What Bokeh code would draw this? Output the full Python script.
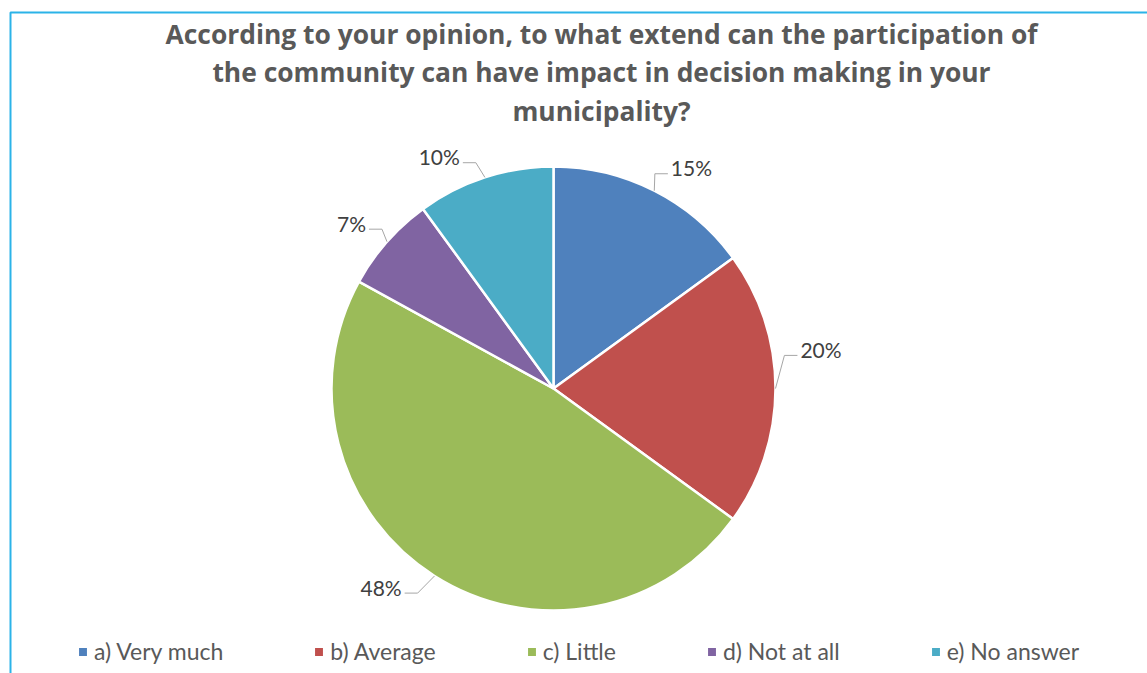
import numpy as np
from bokeh.plotting import figure
from bokeh.models import ColumnDataSource, Range1d, Legend, LegendItem
from bokeh.embed import file_html
from bokeh.resources import INLINE
from bokeh.core.properties import value

# ---------------- data ----------------
categories = ["a) Very much", "b) Average", "c) Little", "d) Not at all", "e) No answer"]
percentages = [15, 20, 48, 7, 10]
colors = ["#4F81BD", "#C0504D", "#9BBB59", "#8064A2", "#4BACC6"]
title_lines = [
    "According to your opinion, to what extend can the participation of",
    "the community can have impact in decision making in your",
    "municipality?",
]

# ---------------- layout ----------------
W, H = 1147, 673
cx, cy = 553, H - 388          # pie centre (px, y up)
R = 222                        # pie radius (px)
label_radius = 250
label_nudge_deg = [-1, 9, -5, 0, 4]
title_x = 601
title_y = [H - 33, H - 71, H - 110]
FONT = "Lato"
TITLE_FONT = "Open Sans"

frac = np.array(percentages, dtype=float) / sum(percentages)
cum = np.cumsum(frac)
start = np.pi / 2 - 2 * np.pi * (cum - frac)
end = np.pi / 2 - 2 * np.pi * cum
mid = (start + end) / 2

src = ColumnDataSource(dict(cat=categories, start=start, end=end, color=colors))

p = figure(width=W, height=H, x_range=Range1d(0, W), y_range=Range1d(0, H),
           x_axis_type=None, y_axis_type=None, toolbar_location=None,
           output_backend="svg", min_border=0, outline_line_color=None)
p.grid.visible = False

# frame border
p.line(x=[10, 10, W + 20], y=[-20, H - 12, H - 12], line_color="#2BB3E8", line_width=2)

wedges = p.wedge(x=cx, y=cy, radius=R, start_angle="start", end_angle="end",
                 direction="clock", fill_color="color", line_color="white",
                 line_width=2.5, source=src)

# data labels with leader lines
lx, ly, lt, la = [], [], [], []
xs, ys = [], []
for i, v in enumerate(percentages):
    m = mid[i]
    a = m + np.deg2rad(label_nudge_deg[i])
    ax_, ay_ = cx + R * np.cos(m), cy + R * np.sin(m)
    nx, ny = cx + label_radius * np.cos(a), cy + label_radius * np.sin(a)
    side = 1 if np.cos(a) >= 0 else -1
    lx.append(nx); ly.append(ny); lt.append(f"{v}%")
    la.append("left" if side > 0 else "right")
    hy = ny - 6
    xs.append([nx - side * 3, nx - side * 16, ax_])
    ys.append([hy, hy, ay_])

p.multi_line(xs=xs, ys=ys, line_color="#A6A6A6", line_width=1)
p.text(x="x", y="y", text="t", text_align="a",
       source=ColumnDataSource(dict(x=lx, y=ly, t=lt, a=la)),
       text_baseline="middle", text_font=value(FONT), text_font_size="21px",
       text_color="#404040")

# title
p.text(x=[title_x] * len(title_lines), y=title_y, text=title_lines,
       text_align="center", text_baseline="middle", text_font=value(TITLE_FONT),
       text_font_style="bold", text_font_size="26.4px", text_color="#595959")

legend = Legend(
    items=[LegendItem(label=c, renderers=[wedges], index=i) for i, c in enumerate(categories)],
    orientation="horizontal", location=(76, 8), border_line_color=None,
    background_fill_alpha=0, padding=0, margin=0, spacing=89,
    glyph_width=13, glyph_height=13, label_standoff=5,
    label_text_font=FONT, label_text_font_size="23px", label_text_color="#595959")
p.add_layout(legend)

open("out.html", "w").write(file_html(p, INLINE))
